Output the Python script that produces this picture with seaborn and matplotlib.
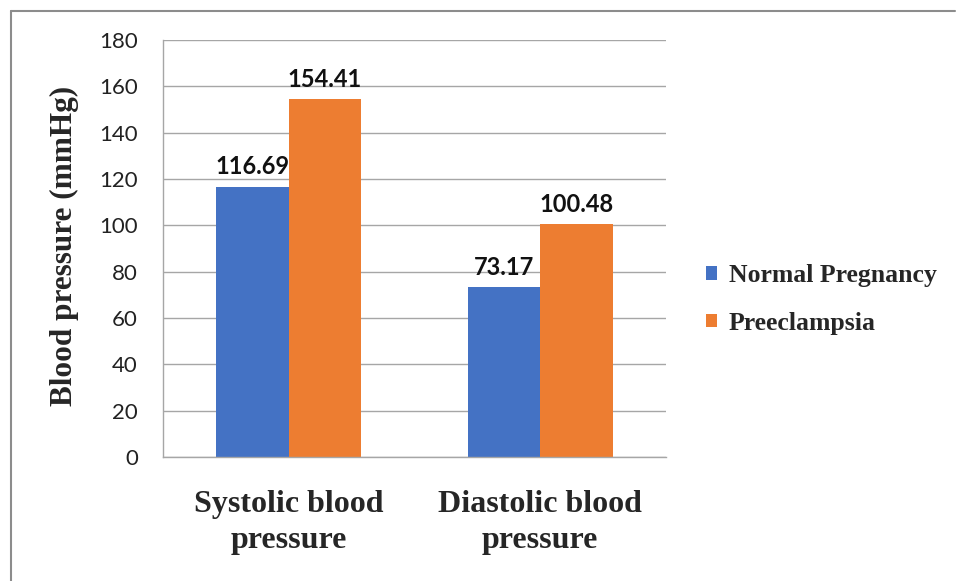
import matplotlib
matplotlib.use("Agg")
import matplotlib.pyplot as plt
from matplotlib.lines import Line2D
from matplotlib.patches import Patch
import seaborn as sns
import pandas as pd

categories = ["Systolic blood\npressure", "Diastolic blood\npressure"]
groups = ["Normal Pregnancy", "Preeclampsia"]
normal_vals = [116.69, 73.17]
pre_vals = [154.41, 100.48]
colors = ["#4472C4", "#ED7D31"]

df = pd.DataFrame({
    "category": categories * 2,
    "group": [groups[0]] * 2 + [groups[1]] * 2,
    "value": normal_vals + pre_vals,
})

sns.set_theme(style="white")
serif = ["Liberation Serif", "DejaVu Serif"]
sans = ["Lato", "DejaVu Sans"]

fig = plt.figure(figsize=(9.56, 5.81), dpi=100)
ax = fig.add_axes([0.1705, 0.2134, 0.5262, 0.7178])

sns.barplot(data=df, x="category", y="value", hue="group", order=categories,
            hue_order=groups, palette=colors, width=0.577, saturation=1,
            linewidth=0, legend=False, ax=ax)

for cont in ax.containers:
    ax.bar_label(cont, fmt="%.2f", padding=6, fontsize=17, fontweight="bold",
                 family=sans, color="#111111")

ax.set_ylim(0, 180)
ax.set_yticks(range(0, 181, 20))
ax.set_xlim(-0.5, 1.5)
ax.yaxis.grid(True, color="#a6a6a6", linewidth=1)
ax.set_axisbelow(True)
for s in ["top", "right"]:
    ax.spines[s].set_visible(False)
for s in ["left", "bottom"]:
    ax.spines[s].set_color("#a6a6a6")
    ax.spines[s].set_linewidth(1)

# category boundary ticks on x, label at centers
ax.set_xticks([-0.5, 0.5, 1.5], minor=False)
ax.set_xticklabels(["", "", ""])
ax.set_xticks([0, 1], minor=True)
ax.set_xticklabels(categories, minor=True, family=serif, fontweight="bold", fontsize=23,
                   linespacing=1.3)
ax.tick_params(axis="x", which="major", length=8, color="#a6a6a6", width=1, direction="out")
ax.tick_params(axis="x", which="minor", length=0, pad=24)
ax.tick_params(axis="y", length=8, color="#a6a6a6", width=1, direction="out",
               labelsize=16, pad=10)
for t in ax.get_yticklabels():
    t.set_family(sans)
    t.set_color("#222222")

ax.set_xlabel("")
ax.set_ylabel("Blood pressure (mmHg)", family=serif, fontweight="bold", fontsize=22.5)
ax.yaxis.set_label_coords(-0.166, 0.505)

handles = [Patch(facecolor=c, edgecolor="none") for c in colors]
leg = fig.legend(handles, groups, loc="center left", bbox_to_anchor=(0.714, 0.4845),
                 frameon=False, prop={"family": serif, "weight": "bold", "size": 18.5},
                 handlelength=0.45, handleheight=0.45, handletextpad=0.45, labelspacing=0.95)

# outer chart border (left and top only visible)
fig.add_artist(Line2D([0.0115, 0.0115], [0.0, 0.981], transform=fig.transFigure,
                      color="#8c8c8c", linewidth=1.5))
fig.add_artist(Line2D([0.0115, 0.999], [0.981, 0.981], transform=fig.transFigure,
                      color="#8c8c8c", linewidth=1.5))

fig.savefig("out.png", dpi=100)
